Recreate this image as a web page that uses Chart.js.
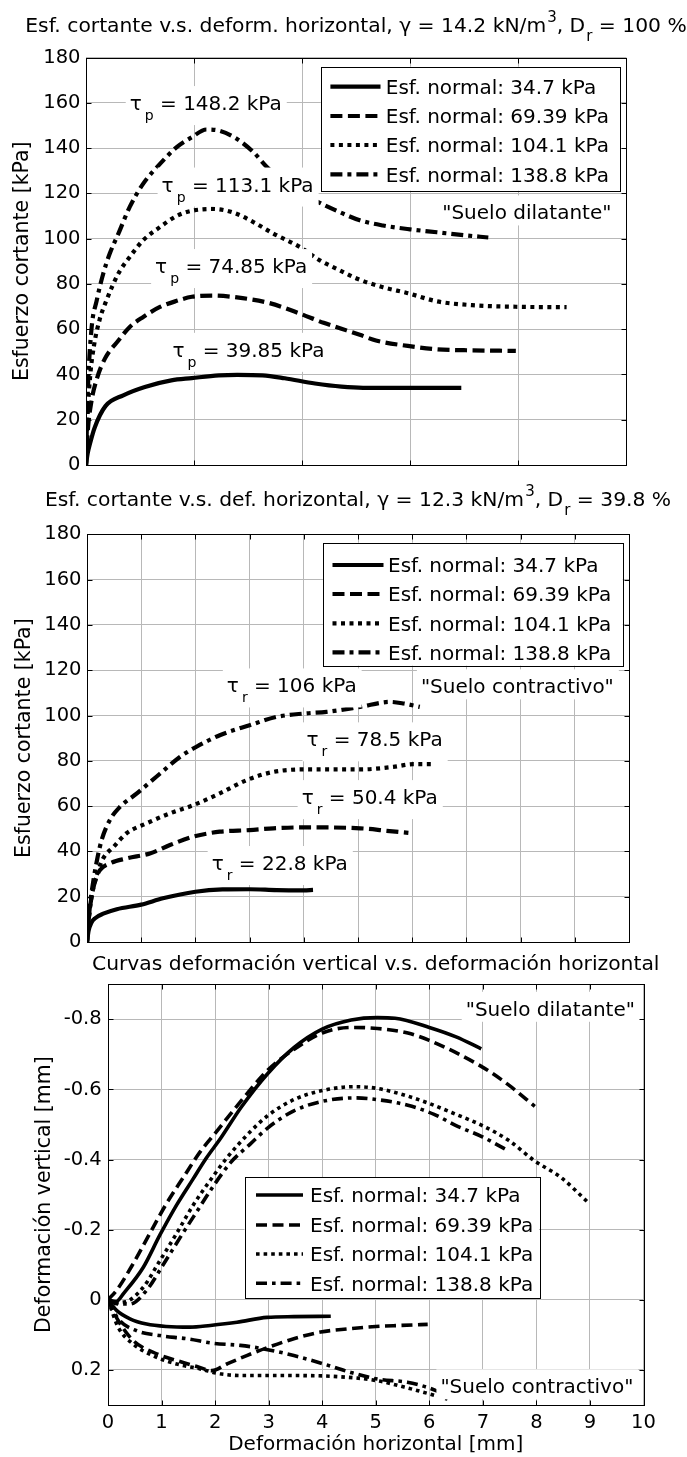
<!DOCTYPE html>
<html lang="es">
<head>
<meta charset="UTF-8" />
<title>Esfuerzo cortante y deformación</title>
<script src="https://cdn.jsdelivr.net/npm/chart.js@4.4.0/dist/chart.umd.min.js"></script>
<style>
  html, body { margin: 0; padding: 0; background: #fff; }
  #pagina { position: relative; width: 687px; height: 1457px; overflow: hidden; background: #fff; }
  #pagina canvas { position: absolute; left: 0; top: 0; }
</style>
</head>
<body>
<div id="pagina">
  <canvas id="g1" width="687" height="1457"></canvas>
  <canvas id="g2" width="687" height="1457"></canvas>
  <canvas id="g3" width="687" height="1457"></canvas>
</div>
<script>
// ---------- datos ----------
const leyenda = ["Esf. normal: 34.7 kPa", "Esf. normal: 69.39 kPa", "Esf. normal: 104.1 kPa", "Esf. normal: 138.8 kPa"];
const ticksEsf = [0, 20, 40, 60, 80, 100, 120, 140, 160, 180];
const ticksX1 = [0, 2, 4, 6, 8, 10];
const ticksX2 = [0, 1, 2, 3, 4, 5, 6, 7, 8, 9, 10];
const ticksX3 = [0, 1, 2, 3, 4, 5, 6, 7, 8, 9, 10];
const ticksY3 = [-0.8, -0.6, -0.4, -0.2, 0, 0.2];

// grafico 1: Dr = 100 %
const g1x_a = [0, 0.03, 0.08, 0.16, 0.36, 0.69, 1.09, 1.58, 1.96, 2.46, 2.8, 3.27, 3.68, 4.24, 4.73, 5.13, 6.0, 6.95];
const g1y_a = [0, 5, 10, 16.5, 26, 30.8, 34.5, 37.4, 38.4, 39.6, 39.85, 39.6, 38.3, 36, 34.6, 34.1, 34.1, 34.1];
const g1x_b = [0, 0.03, 0.1, 0.2, 0.35, 0.6, 0.81, 1.06, 1.37, 1.68, 1.96, 2.35, 2.9, 3.4, 3.96, 4.4, 4.73, 5.07, 5.37, 5.96, 6.5, 7.0, 7.96];
const g1y_b = [0, 14, 28, 38, 47, 55, 61, 65.4, 69.8, 72.5, 74.3, 74.85, 73.7, 71.5, 66.9, 62.8, 60.2, 57.5, 55, 52.6, 51.1, 50.7, 50.4];
const g1x_c = [0, 0.03, 0.08, 0.15, 0.25, 0.38, 0.6, 0.81, 1.06, 1.37, 1.68, 1.96, 2.35, 2.73, 3.1, 3.47, 3.96, 4.33, 4.7, 5.01, 5.5, 5.96, 6.5, 7.15, 7.96, 8.9];
const g1y_c = [0, 22, 40, 53, 64, 72.8, 84.6, 91.9, 99.3, 105.1, 110, 112.3, 113.1, 111.5, 107.3, 102.2, 96.3, 90.4, 86, 82.4, 78.5, 75.9, 72.3, 70.6, 69.9, 69.7];
const g1x_d = [0, 0.03, 0.1, 0.2, 0.32, 0.44, 0.6, 0.81, 1.06, 1.37, 1.68, 1.96, 2.23, 2.48, 2.79, 3.1, 3.35, 3.8, 4.24, 4.7, 5.07, 5.5, 6.0, 6.5, 7.0, 7.45];
const g1y_d = [0, 30, 59.6, 72.8, 84.6, 93.4, 102.2, 114, 124.3, 133, 140.4, 144.8, 148.2, 147.6, 144.1, 138.2, 131.6, 123.5, 116.9, 111.7, 108.1, 105.8, 104.1, 102.8, 101.5, 100.5];

// grafico 2: Dr = 39.8 %
const g2x_a = [0, 0.03, 0.08, 0.15, 0.3, 0.55, 1.0, 1.4, 2.0, 2.5, 3.0, 3.5, 4.0, 4.17];
const g2y_a = [0, 5, 8.5, 10.5, 12.5, 14.5, 16.5, 19.3, 22.2, 23.2, 23.3, 22.9, 22.8, 23];
const g2x_b = [0, 0.04, 0.1, 0.18, 0.24, 0.42, 0.73, 1.16, 1.53, 1.96, 2.45, 3.0, 3.44, 4.02, 5.04, 5.53, 5.93];
const g2y_b = [0, 12, 22, 29, 31.8, 34.7, 36.9, 39.1, 42.8, 46.5, 48.7, 49.4, 50.2, 50.6, 50.2, 49.1, 48.2];
const g2x_c = [0, 0.04, 0.1, 0.2, 0.3, 0.49, 0.73, 1.1, 1.53, 1.96, 2.45, 2.95, 3.44, 4.02, 5.04, 5.65, 6.02, 6.42];
const g2y_c = [0, 12, 22, 31, 37, 42, 48, 52.4, 56.8, 60.4, 65.6, 71.5, 75.1, 76.2, 76.2, 77.3, 78.5, 78.5];
const g2x_d = [0, 0.05, 0.12, 0.2, 0.27, 0.42, 0.61, 0.92, 1.35, 1.72, 2.02, 2.45, 3.0, 3.5, 4.02, 4.42, 5.04, 5.59, 5.84, 6.14];
const g2y_d = [0, 15, 27.4, 38, 45, 53.8, 59.7, 65.6, 74.4, 81.8, 86.2, 91.3, 95.7, 99.4, 100.9, 101.6, 103.8, 106, 105.3, 103.8];

// grafico 3: deformacion vertical (dilatante y contractivo)
const g3x_a = [0, 0.15, 0.3, 0.66, 0.97, 1.28, 1.59, 1.84, 2.1, 2.49, 2.98, 3.47, 4.0, 4.54, 5.03, 5.36, 6.0, 6.5, 6.97];
const g3y_a = [0, 0.005, -0.02, -0.093, -0.185, -0.27, -0.345, -0.405, -0.46, -0.55, -0.645, -0.719, -0.772, -0.798, -0.805, -0.803, -0.777, -0.75, -0.716];
const g3x_b = [0, 0.16, 0.47, 0.78, 1.09, 1.41, 1.72, 2.0, 2.49, 2.98, 3.47, 4.0, 4.54, 5.03, 5.6, 6.0, 6.97, 7.48, 7.97];
const g3y_b = [0, -0.027, -0.103, -0.189, -0.274, -0.35, -0.422, -0.475, -0.568, -0.655, -0.714, -0.761, -0.777, -0.774, -0.761, -0.74, -0.666, -0.613, -0.552];
const g3x_c = [0, 0.15, 0.34, 0.66, 0.97, 1.28, 1.59, 1.91, 2.22, 2.66, 2.98, 3.47, 4.0, 4.62, 5.03, 5.6, 6.0, 6.5, 6.99, 7.48, 7.97, 8.46, 8.95];
const g3y_c = [0, 0.008, 0.005, -0.036, -0.112, -0.189, -0.27, -0.341, -0.405, -0.48, -0.525, -0.571, -0.597, -0.608, -0.603, -0.581, -0.56, -0.529, -0.497, -0.455, -0.396, -0.349, -0.28];
const g3x_d = [0, 0.2, 0.41, 0.72, 1.03, 1.34, 1.66, 1.97, 2.28, 2.66, 2.98, 3.47, 4.0, 4.62, 5.03, 5.6, 6.09, 6.5, 6.99, 7.44];
const g3y_d = [0, 0.012, 0.012, -0.027, -0.1, -0.176, -0.252, -0.325, -0.39, -0.445, -0.49, -0.539, -0.566, -0.576, -0.571, -0.555, -0.529, -0.497, -0.465, -0.428];
const g3x_ac = [0, 0.16, 0.41, 0.72, 1.09, 1.53, 1.91, 2.41, 2.97, 3.47, 4.16];
const g3y_ac = [0, 0.03, 0.054, 0.069, 0.076, 0.078, 0.073, 0.064, 0.05, 0.048, 0.047];
const g3x_bc = [0, 0.19, 0.47, 0.91, 1.28, 1.66, 1.94, 2.22, 2.59, 3.0, 3.47, 3.97, 4.47, 5.0, 5.47, 5.97];
const g3y_bc = [0, 0.059, 0.116, 0.154, 0.173, 0.19, 0.202, 0.183, 0.159, 0.135, 0.111, 0.092, 0.083, 0.076, 0.073, 0.07];
const g3x_cc = [0, 0.19, 0.47, 0.91, 1.28, 1.72, 2.09, 2.53, 3.47, 4.28, 5.0, 5.66, 6.34];
const g3y_cc = [0, 0.078, 0.126, 0.164, 0.183, 0.197, 0.211, 0.216, 0.216, 0.219, 0.23, 0.254, 0.283];
const g3x_dc = [0, 0.19, 0.53, 0.97, 1.47, 1.97, 2.47, 2.91, 3.47, 4.03, 4.53, 5.03, 5.59, 5.97, 6.22];
const g3y_dc = [0, 0.054, 0.088, 0.102, 0.111, 0.124, 0.13, 0.14, 0.159, 0.183, 0.207, 0.226, 0.235, 0.25, 0.265];

// ---------- estilo ----------
const FAM = "'DejaVu Sans', sans-serif";
const GRID = "#b8b8b8";
Chart.defaults.font.family = FAM;
Chart.defaults.font.size = 19.5;
Chart.defaults.color = "#000";

const trazos12 = [[], [12, 5.5], [4, 4.5], [12, 5, 4, 5]];
const trazos3 = [[], [11, 5.5], [3.6, 4], [11, 5, 3.6, 5]];

function serie(xs, ys, dash, lw) {
  return {
    data: xs.map((x, i) => ({ x: x, y: ys[i] })),
    showLine: true,
    borderColor: "#000",
    borderWidth: lw,
    borderDash: dash,
    pointRadius: 0,
    cubicInterpolationMode: "monotone",
  };
}

// texto tipo TeX: _{sub} y ^{sup}
function partes(s) {
  const out = [];
  const re = /([_^])\{([^}]*)\}/g;
  let last = 0, m;
  while ((m = re.exec(s))) {
    if (m.index > last) out.push({ t: s.slice(last, m.index) });
    out.push({ t: m[2], sub: m[1] === "_", sup: m[1] === "^" });
    last = re.lastIndex;
  }
  if (last < s.length) out.push({ t: s.slice(last) });
  return out;
}

function anchoRico(ctx, ps, st) {
  let w = 0;
  ps.forEach((p) => {
    const small = p.sub || p.sup;
    ctx.font = (small ? st.sfs : st.fs) + "px " + FAM;
    w += ctx.measureText(p.t).width + (small ? st.gap : 0);
  });
  return w;
}

function dibujaRico(ctx, x, base, ps, st) {
  ps.forEach((p) => {
    const small = p.sub || p.sup;
    ctx.font = (small ? st.sfs : st.fs) + "px " + FAM;
    if (small) x += st.gap;
    const dy = p.sub ? st.subDy : p.sup ? st.supDy : 0;
    ctx.fillText(p.t, x, base + dy);
    x += ctx.measureText(p.t).width;
  });
}

const estTexto = { fs: 20, sfs: 14, subDy: 10, supDy: -9, gap: 3 };
const estTitulo = { fs: 20.3, sfs: 15, subDy: 9, supDy: -10, gap: 1 };

const decor = {
  id: "decor",
  afterDatasetsDraw(chart, args, o) {
    const ctx = chart.ctx;
    const xs = chart.scales.x, ys = chart.scales.y;
    const ca = chart.chartArea;
    ctx.save();
    ctx.textAlign = "left";
    ctx.textBaseline = "alphabetic";

    // etiquetas con fondo blanco
    (o.etiquetas || []).forEach((e) => {
      const ps = partes(e.t);
      const w = anchoRico(ctx, ps, estTexto);
      const px = xs.getPixelForValue(e.x);
      const x0 = e.der ? px - w : px;
      const base = ys.getPixelForValue(e.y) + 0.3645 * estTexto.fs;
      const conSub = ps.some((p) => p.sub);
      const top = base - estTexto.fs - 4;
      const bot = conSub ? base + estTexto.subDy + 5 : base + 6;
      ctx.fillStyle = "#fff";
      ctx.fillRect(x0 - 4, top, w + 9, bot - top);
      ctx.fillStyle = "#000";
      dibujaRico(ctx, x0, base, ps, estTexto);
    });

    // leyenda
    const L = o.leyenda;
    if (L) {
      ctx.fillStyle = "#fff";
      ctx.fillRect(L.caja[0], L.caja[1], L.caja[2] - L.caja[0], L.caja[3] - L.caja[1]);
      ctx.strokeStyle = "#000";
      ctx.lineWidth = 1;
      ctx.strokeRect(Math.round(L.caja[0]) + 0.5, Math.round(L.caja[1]) + 0.5,
        Math.round(L.caja[2] - L.caja[0]), Math.round(L.caja[3] - L.caja[1]));
      leyenda.forEach((txt, i) => {
        const ds = chart.data.datasets[i];
        const yy = L.filas[i];
        ctx.save();
        ctx.strokeStyle = "#000";
        ctx.lineWidth = ds.borderWidth;
        ctx.setLineDash(ds.borderDash);
        ctx.beginPath();
        ctx.moveTo(L.linea[0], yy);
        ctx.lineTo(L.linea[1], yy);
        ctx.stroke();
        ctx.restore();
        ctx.fillStyle = "#000";
        ctx.font = estTexto.fs + "px " + FAM;
        ctx.fillText(txt, L.texto, yy + 0.3645 * estTexto.fs);
      });
    }

    // marco con marcas hacia dentro
    const l = Math.round(ca.left) + 0.5, r = Math.round(ca.right) + 0.5;
    const t = Math.round(ca.top) + 0.5, b = Math.round(ca.bottom) + 0.5;
    ctx.strokeStyle = "#000";
    ctx.lineWidth = 1;
    ctx.setLineDash([]);
    ctx.strokeRect(l, t, r - l, b - t);
    ctx.beginPath();
    xs.ticks.forEach((tk) => {
      const p = Math.round(xs.getPixelForValue(tk.value)) + 0.5;
      ctx.moveTo(p, b); ctx.lineTo(p, b - 5);
      ctx.moveTo(p, t); ctx.lineTo(p, t + 5);
    });
    ys.ticks.forEach((tk) => {
      const p = Math.round(ys.getPixelForValue(tk.value)) + 0.5;
      ctx.moveTo(l, p); ctx.lineTo(l + 5, p);
      ctx.moveTo(r, p); ctx.lineTo(r - 5, p);
    });
    ctx.stroke();

    // titulo
    if (o.titulo) {
      const ps = partes(o.titulo);
      const w = anchoRico(ctx, ps, estTitulo);
      ctx.fillStyle = "#000";
      dibujaRico(ctx, (ca.left + ca.right) / 2 - w / 2, o.tituloY + 0.3645 * estTitulo.fs, ps, estTitulo);
    }
    ctx.restore();
  },
};

function grafico(id, area, ejeX, ejeY, datasets, opcDecor) {
  return new Chart(document.getElementById(id), {
    type: "scatter",
    data: { datasets: datasets },
    options: {
      responsive: false,
      animation: false,
      devicePixelRatio: 1,
      layout: { padding: { left: 0, top: area.top, right: 687 - area.right, bottom: 1457 - area.bottom - ejeX.alto } },
      scales: {
        x: {
          type: "linear", min: ejeX.min, max: ejeX.max,
          afterBuildTicks: (s) => { s.ticks = ejeX.ticks.map((v) => ({ value: v })); },
          afterFit: (s) => { s.height = ejeX.alto; },
          ticks: { display: ejeX.etiquetas, padding: 6.3, maxRotation: 0, autoSkip: false, callback: (v) => String(v) },
          grid: { color: GRID, lineWidth: 1, drawTicks: false },
          border: { display: false },
          title: ejeX.titulo
            ? { display: true, text: ejeX.titulo, font: { size: 20 }, padding: { top: 0, bottom: 0.7 } }
            : { display: false },
        },
        y: {
          type: "linear", min: ejeY.min, max: ejeY.max, reverse: !!ejeY.inverso,
          afterBuildTicks: (s) => { s.ticks = ejeY.ticks.map((v) => ({ value: v })); },
          afterFit: (s) => { s.width = area.left; },
          ticks: { padding: ejeY.pad, autoSkip: false, callback: (v) => (v === 0 ? "0" : ejeY.dec ? v.toFixed(1) : String(v)) },
          grid: { color: GRID, lineWidth: 1, drawTicks: false },
          border: { display: false },
          title: { display: true, text: ejeY.titulo, font: { size: 20.5 }, padding: { top: ejeY.tituloPad, bottom: 0 } },
        },
      },
      plugins: { legend: { display: false }, tooltip: { enabled: false }, decor: opcDecor },
    },
    plugins: [decor],
  });
}

// ---------- grafico 1 ----------
grafico("g1",
  { left: 86, top: 57.5, right: 626, bottom: 465 },
  { min: 0, max: 10, ticks: ticksX1, alto: 10, etiquetas: false },
  { min: 0, max: 180, ticks: ticksEsf, pad: 5.5, titulo: "Esfuerzo cortante [kPa]", tituloPad: 10.7 },
  [
    serie(g1x_a, g1y_a, trazos12[0], 4.2),
    serie(g1x_b, g1y_b, trazos12[1], 4.2),
    serie(g1x_c, g1y_c, trazos12[2], 4.2),
    serie(g1x_d, g1y_d, trazos12[3], 4.2),
  ],
  {
    titulo: "Esf. cortante v.s. deform. horizontal, γ = 14.2 kN/m^{3}, D_{r} = 100 %",
    tituloY: 24.5,
    etiquetas: [
      { x: 0.81, y: 160, t: "τ_{p} = 148.2 kPa" },
      { x: 1.4, y: 124, t: "τ_{p} = 113.1 kPa" },
      { x: 1.28, y: 88, t: "τ_{p} = 74.85 kPa" },
      { x: 1.6, y: 51, t: "τ_{p} = 39.85 kPa" },
      { x: 9.73, y: 111.7, t: '"Suelo dilatante"', der: true },
    ],
    leyenda: { caja: [320.8, 66.7, 620, 190.7], filas: [86.7, 116, 145, 174.3], linea: [330.4, 380.5], texto: 385.8 },
  }
);

// ---------- grafico 2 ----------
grafico("g2",
  { left: 87, top: 534.3, right: 629, bottom: 942 },
  { min: 0, max: 10, ticks: ticksX2, alto: 10, etiquetas: false },
  { min: 0, max: 180, ticks: ticksEsf, pad: 5.5, titulo: "Esfuerzo cortante [kPa]", tituloPad: 12.2 },
  [
    serie(g2x_a, g2y_a, trazos12[0], 4.2),
    serie(g2x_b, g2y_b, trazos12[1], 4.2),
    serie(g2x_c, g2y_c, trazos12[2], 4.2),
    serie(g2x_d, g2y_d, trazos12[3], 4.2),
  ],
  {
    titulo: "Esf. cortante v.s. def. horizontal, γ = 12.3 kN/m^{3}, D_{r} = 39.8 %",
    tituloY: 499,
    etiquetas: [
      { x: 2.58, y: 113.4, t: "τ_{r} = 106 kPa" },
      { x: 4.05, y: 89.6, t: "τ_{r} = 78.5 kPa" },
      { x: 3.96, y: 64.1, t: "τ_{r} = 50.4 kPa" },
      { x: 2.3, y: 35, t: "τ_{r} = 22.8 kPa" },
      { x: 9.72, y: 113, t: '"Suelo contractivo"', der: true },
    ],
    leyenda: { caja: [322.9, 542.7, 622.7, 665.7], filas: [565, 594, 623.3, 652.3], linea: [332.5, 383.5], texto: 388 },
  }
);

// ---------- grafico 3 ----------
grafico("g3",
  { left: 108, top: 984.3, right: 643.5, bottom: 1405 },
  { min: 0, max: 10, ticks: ticksX3, alto: 52, etiquetas: true, titulo: "Deformación horizontal [mm]" },
  { min: -0.9, max: 0.3, inverso: true, dec: true, ticks: ticksY3, pad: 6.3, titulo: "Deformación vertical [mm]", tituloPad: 32.7 },
  [
    serie(g3x_a, g3y_a, trazos3[0], 3.6),
    serie(g3x_b, g3y_b, trazos3[1], 3.6),
    serie(g3x_c, g3y_c, trazos3[2], 3.6),
    serie(g3x_d, g3y_d, trazos3[3], 3.6),
    serie(g3x_ac, g3y_ac, trazos3[0], 3.6),
    serie(g3x_bc, g3y_bc, trazos3[1], 3.6),
    serie(g3x_cc, g3y_cc, trazos3[2], 3.6),
    serie(g3x_dc, g3y_dc, trazos3[3], 3.6),
  ],
  {
    titulo: "Curvas deformación vertical v.s. deformación horizontal",
    tituloY: 962.5,
    etiquetas: [
      { x: 9.84, y: -0.831, t: '"Suelo dilatante"', der: true },
      { x: 9.81, y: 0.246, t: '"Suelo contractivo"', der: true },
    ],
    leyenda: { caja: [244.5, 1177, 539, 1298.3], filas: [1195, 1225, 1254, 1283.3], linea: [256, 303], texto: 310 },
  }
);
</script>
</body>
</html>
